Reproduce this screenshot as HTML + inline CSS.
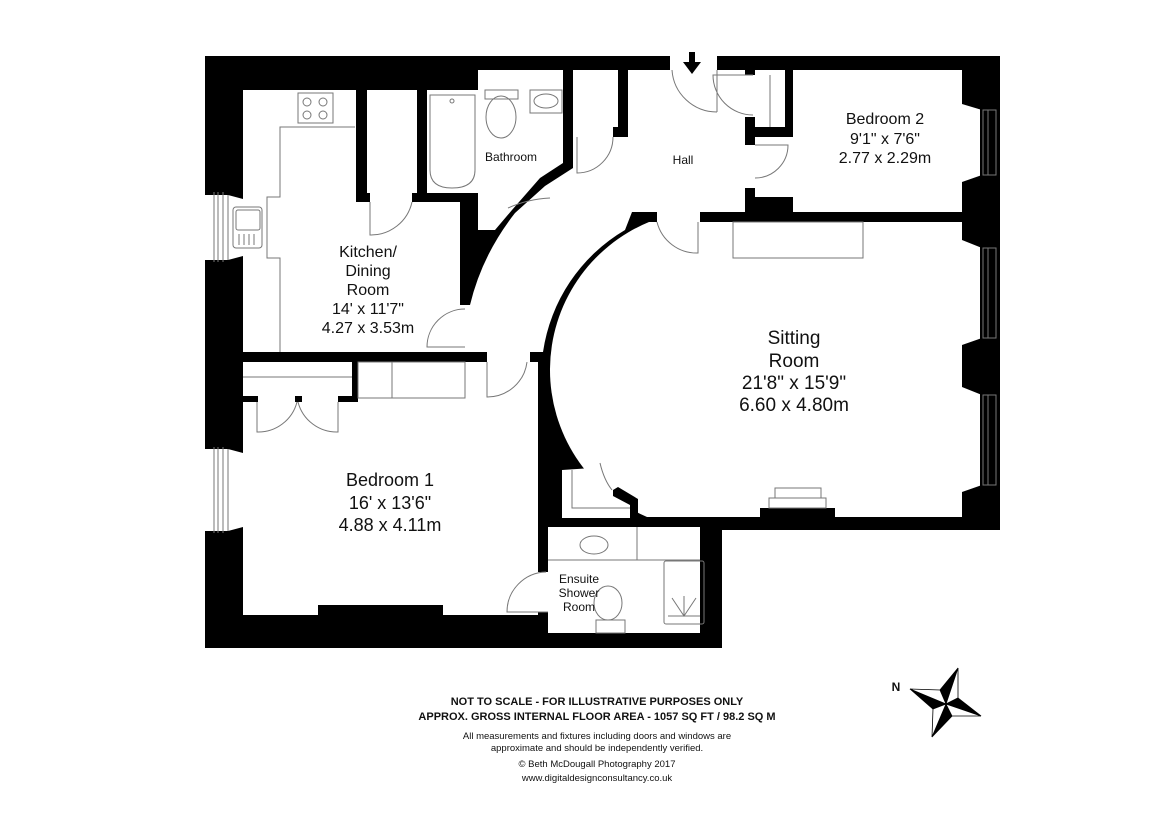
<!DOCTYPE html>
<html><head><meta charset="utf-8"><style>
html,body{margin:0;padding:0;background:#fff;}
svg{display:block;}
text{font-family:"Liberation Sans",Arial,sans-serif;fill:#111;}
</style></head><body>
<svg width="1170" height="819" viewBox="0 0 1170 819" xmlns="http://www.w3.org/2000/svg">
<rect width="1170" height="819" fill="#fff"/>
<!-- outer black mass -->
<polygon points="205,56 1000,56 1000,530 722,530 722,648 205,648" fill="#000"/>
<g fill="#fff">
<!-- kitchen -->
<rect x="243" y="90" width="113" height="262"/>
<rect x="243" y="202" width="217" height="150"/>
<rect x="367" y="90" width="50" height="103"/>
<rect x="370" y="192" width="42" height="12"/>
<!-- kitchen window -->
<polygon points="205,195 228,195 243,199 243,256 228,260 205,260"/>
<!-- bathroom -->
<polygon points="427,90 478,90 478,70 563,70 563,163 540,178 512,210 495,230 478,230 478,193 427,193"/>
<!-- cupboard 2 -->
<rect x="573" y="70" width="45" height="57"/>
<rect x="573" y="125" width="40" height="14"/>
<!-- hall -->
<path d="M628,70 L745,70 L745,212 L632,212 L625,230 A170,170 0 0,0 543,352 L470,352 L470,305 Q482,255 515,213 L545,186 L573,168 L573,137 L628,137 Z"/>
<rect x="458" y="305" width="14" height="47"/>
<rect x="487" y="350" width="43" height="14"/>
<rect x="670" y="50" width="47" height="22"/>
<!-- bedroom 2 & cupboard -->
<polygon points="793,70 980,70 980,212 793,212 793,197 755,197 755,137 793,137"/>
<rect x="755" y="70" width="30" height="57"/>
<rect x="743" y="75" width="14" height="42"/>
<rect x="743" y="145" width="14" height="43"/>
<!-- sitting room -->
<path d="M657,222 L980,222 L980,517 L647,517 A160,160 0 0,1 649,222 Z"/>
<rect x="657" y="210" width="43" height="14"/>
<!-- lobby -->
<polygon points="562,470 592,468 613,490 630,505 630,518 562,518"/>
<!-- bedroom 1 -->
<rect x="243" y="362" width="295" height="253"/>
<polygon points="205,449 228,449 243,453 243,527 228,531 205,531"/>
<!-- ensuite -->
<rect x="548" y="527" width="152" height="106"/>
<rect x="536" y="572" width="14" height="40"/>
</g>
<g fill="#000">
<!-- right piers -->
<polygon points="962,56 1000,56 1000,110 982,110 962,104"/>
<polygon points="982,175 962,182 962,240 982,248 1000,248 1000,175"/>
<polygon points="982,338 962,345 962,387 982,395 1000,395 1000,338"/>
<polygon points="982,485 962,492 962,530 1000,530 1000,485"/>
<!-- lobby stub -->
<polygon points="613,490 618,487 638,499 638,518 630,518 630,505 613,496"/>
<!-- bedroom1 bottom bump -->
<rect x="318" y="605" width="125" height="10"/>
<!-- fireplace -->
<rect x="760" y="508" width="75" height="10"/>
<!-- wardrobe walls -->
<rect x="243" y="396" width="15" height="6"/>
<rect x="338" y="396" width="20" height="6"/>
<rect x="295" y="396" width="7" height="6"/>
<rect x="352" y="362" width="6" height="40"/>
<!-- arrow -->
<rect x="689" y="52" width="6" height="11"/>
<polygon points="683,62 701,62 692,74"/>
</g>
<g fill="none" stroke="#777" stroke-width="1">
<!-- windows -->
<line x1="214" y1="192" x2="214" y2="262"/><line x1="218" y1="192" x2="218" y2="262"/><line x1="223" y1="192" x2="223" y2="262"/><line x1="228" y1="195" x2="228" y2="260"/>
<line x1="214" y1="447" x2="214" y2="533"/><line x1="218" y1="447" x2="218" y2="533"/><line x1="223" y1="447" x2="223" y2="533"/><line x1="228" y1="449" x2="228" y2="531"/>
<rect x="983" y="110" width="13" height="65"/><line x1="988" y1="110" x2="988" y2="175"/>
<rect x="983" y="248" width="13" height="90"/><line x1="988" y1="248" x2="988" y2="338"/>
<rect x="983" y="395" width="13" height="90"/><line x1="988" y1="395" x2="988" y2="485"/>
<!-- kitchen fixtures -->
<rect x="298" y="93" width="35" height="30"/>
<circle cx="307" cy="102" r="4"/><circle cx="323" cy="102" r="4"/><circle cx="307" cy="115" r="4"/><circle cx="323" cy="115" r="4"/>
<polyline points="355,127 280,127 280,197 267,197 267,258 280,258 280,352"/>
<rect x="233" y="207" width="29" height="41" rx="3"/>
<rect x="236" y="210" width="24" height="20" rx="2"/>
<line x1="239" y1="234" x2="239" y2="245"/><line x1="244" y1="234" x2="244" y2="245"/><line x1="249" y1="234" x2="249" y2="245"/><line x1="254" y1="234" x2="254" y2="245"/>
<!-- bathroom fixtures -->
<path d="M430,95 L475,95 L475,170 Q475,188 452,188 Q430,188 430,170 Z"/>
<circle cx="452" cy="101" r="2"/>
<rect x="485" y="90" width="33" height="9"/>
<ellipse cx="501" cy="117" rx="15" ry="21"/>
<rect x="530" y="90" width="32" height="23"/>
<ellipse cx="546" cy="101" rx="12" ry="7"/>
<!-- doors -->
<path d="M717,70 L717,112 M717,112 A45,45 0 0,1 672,70"/>
<path d="M753,75 L713,75 A40,40 0 0,0 753,115"/>
<line x1="770" y1="75" x2="770" y2="127"/>
<path d="M755,145 L788,145 A33,33 0 0,1 755,178"/>
<path d="M577,137 L577,173 A36,36 0 0,0 613,137"/>
<path d="M698,222 L698,253 A41,41 0 0,1 657,222"/>
<path d="M508,208 Q528,199 550,198"/>
<path d="M465,347 L427,347 A38,38 0 0,1 465,309"/>
<path d="M370,202 L370,235 A42,42 0 0,0 412,202"/>
<path d="M487,362 L487,397 A40,40 0 0,0 527,362"/>
<path d="M257,402 L257,432 A40,40 0 0,0 297,402"/>
<path d="M338,402 L338,432 A40,40 0 0,1 298,402"/>
<path d="M548,612 L507,612 A40,40 0 0,1 546,572"/>
<path d="M600,463 Q604,480 612,490"/>
<!-- bedroom1 wardrobe -->
<line x1="243" y1="377" x2="352" y2="377"/>
<rect x="358" y="362" width="107" height="36"/>
<line x1="392" y1="362" x2="392" y2="398"/>
<!-- lobby -->
<polyline points="572,470 572,508 630,508"/>
<!-- sitting -->
<rect x="733" y="222" width="130" height="36"/>
<rect x="769" y="498" width="57" height="10"/>
<rect x="775" y="488" width="46" height="10"/>
<!-- ensuite -->
<line x1="548" y1="560" x2="700" y2="560"/>
<line x1="637" y1="527" x2="637" y2="560"/>
<ellipse cx="594" cy="545" rx="14" ry="9"/>
<ellipse cx="608" cy="603" rx="14" ry="17"/>
<rect x="596" y="620" width="29" height="13"/>
<rect x="664" y="561" width="40" height="63" rx="2"/>
<path d="M672,598 L684,616 L696,598 M684,596 L684,616 M668,616 L700,616"/>
</g>
<!-- labels -->
<g text-anchor="middle" font-size="16">
<text x="368" y="257">Kitchen/</text>
<text x="368" y="276">Dining</text>
<text x="368" y="295">Room</text>
<text x="368" y="314">14' x 11'7"</text>
<text x="368" y="333">4.27 x 3.53m</text>
<text x="885" y="124">Bedroom 2</text>
<text x="885" y="144">9'1" x 7'6"</text>
<text x="885" y="163">2.77 x 2.29m</text>
</g>
<text x="511" y="161" font-size="12" text-anchor="middle">Bathroom</text>
<text x="683" y="164" font-size="12" text-anchor="middle">Hall</text>
<g text-anchor="middle" font-size="19">
<text x="794" y="344">Sitting</text>
<text x="794" y="367">Room</text>
<text x="794" y="389">21'8" x 15'9"</text>
<text x="794" y="411">6.60 x 4.80m</text>
</g>
<g text-anchor="middle" font-size="18">
<text x="390" y="486">Bedroom 1</text>
<text x="390" y="509">16' x 13'6"</text>
<text x="390" y="531">4.88 x 4.11m</text>
</g>
<g text-anchor="middle" font-size="12">
<text x="579" y="583">Ensuite</text>
<text x="579" y="597">Shower</text>
<text x="579" y="611">Room</text>
</g>
<!-- footer -->
<g text-anchor="middle">
<text x="597" y="705" font-size="11" font-weight="bold">NOT TO SCALE - FOR ILLUSTRATIVE PURPOSES ONLY</text>
<text x="597" y="720" font-size="11" font-weight="bold">APPROX. GROSS INTERNAL FLOOR AREA -  1057 SQ FT /  98.2 SQ M</text>
<text x="597" y="739" font-size="9.5">All measurements and fixtures including doors and windows are</text>
<text x="597" y="751" font-size="9.5">approximate and should be independently verified.</text>
<text x="597" y="767" font-size="9.5">© Beth McDougall Photography 2017</text>
<text x="597" y="781" font-size="9.5">www.digitaldesignconsultancy.co.uk</text>
</g>
<!-- compass -->
<text x="896" y="691" font-size="12" font-weight="bold" text-anchor="middle">N</text>
<g stroke="#000" stroke-width="0.8">
<polygon points="958,668 940,690 946,704" fill="#000"/>
<polygon points="958,668 958,698 946,704" fill="#fff"/>
<polygon points="910,689 946,704 933,709" fill="#000"/>
<polygon points="910,689 940,690 946,704" fill="#fff"/>
<polygon points="932,737 946,704 952,716" fill="#000"/>
<polygon points="932,737 933,709 946,704" fill="#fff"/>
<polygon points="981,716 946,704 958,698" fill="#000"/>
<polygon points="981,716 952,716 946,704" fill="#fff"/>
</g>
</svg>
</body></html>
